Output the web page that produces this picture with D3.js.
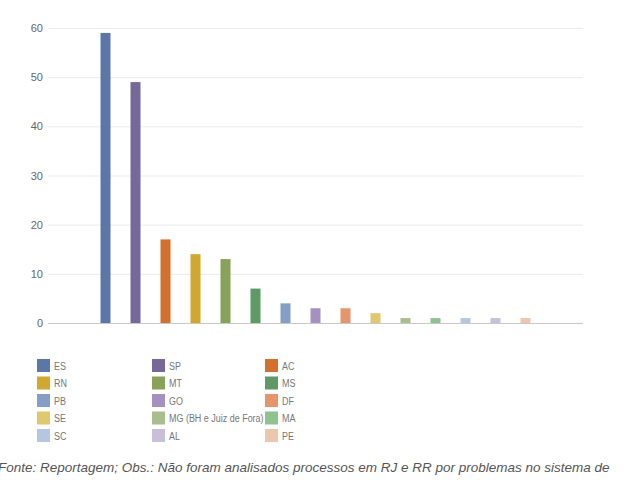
<!DOCTYPE html>
<html>
<head>
<meta charset="utf-8">
<script src="https://cdn.jsdelivr.net/npm/d3@7"></script>
<style>
  body { margin: 0; background: #fff; }
  svg { display: block; font-family: "Liberation Sans", Arial, sans-serif; }
</style>
</head>
<body>
<svg id="chart" width="640" height="480"></svg>
<script>
// estados e numero de processos
var estados = ["ES", "SP", "AC", "RN", "MT", "MS", "PB", "GO", "DF", "SE",
               "MG (BH e Juiz de Fora)", "MA", "SC", "AL", "PE"];
var processos = [59, 49, 17, 14, 13, 7, 4, 3, 3, 2, 1, 1, 1, 1, 1];
var cores = ["#5b77a8", "#76699a", "#d4702d", "#d1a72f", "#88a25a", "#5f9965",
             "#869ec5", "#a491c0", "#e6956a", "#dfc86d", "#a9bd8d", "#8ec28f",
             "#b4c6e2", "#c8bfd9", "#ebc7ae"];
var yTicks = [0, 10, 20, 30, 40, 50, 60];
var nota = "Fonte: Reportagem; Obs.: Não foram analisados processos em RJ e RR por problemas no sistema de";

var svg = d3.select("#chart");

var mLeft = 48, mRight = 583, mTop = 28, mBottom = 323;

var x = d3.scaleBand()
    .domain(estados)
    .range([mLeft + 42.5, mRight - 42.5])
    .paddingInner(2 / 3)
    .paddingOuter(1 / 3);

var y = d3.scaleLinear()
    .domain([0, 60])
    .range([mBottom, mTop]);

// grid
var yAxis = d3.axisLeft(y).tickValues(yTicks).tickSize(-(mRight - mLeft)).tickPadding(5);
var gy = svg.append("g")
    .attr("transform", "translate(" + mLeft + ",0)")
    .call(yAxis);
gy.select(".domain").remove();
gy.selectAll(".tick line").attr("stroke", "#ebebeb");
gy.selectAll(".tick text")
    .attr("fill", "#666")
    .style("font-family", "'Liberation Sans', Arial, sans-serif")
    .style("font-size", "11px");

// barras
svg.append("g").selectAll("rect")
    .data(estados)
    .enter().append("rect")
    .attr("x", function(d) { return x(d); })
    .attr("width", x.bandwidth())
    .attr("y", function(d, i) { return y(processos[i]); })
    .attr("height", function(d, i) { return y(0) - y(processos[i]); })
    .attr("fill", function(d, i) { return cores[i]; });

// eixo x
svg.append("line")
    .attr("x1", mLeft).attr("x2", mRight)
    .attr("y1", y(0) + 0.5).attr("y2", y(0) + 0.5)
    .attr("stroke", "#c8c8c8");

// legenda (texto mais estreito, como no original)
var colX = [37, 152, 265];
var legend = svg.append("g").selectAll("g")
    .data(estados)
    .enter().append("g")
    .attr("transform", function(d, i) {
        return "translate(" + colX[i % 3] + "," + (359 + Math.floor(i / 3) * 17.5) + ")";
    });
legend.append("rect")
    .attr("width", 13).attr("height", 13)
    .attr("fill", function(d, i) { return cores[i]; });
legend.append("text")
    .attr("transform", "translate(17,10.5) scale(0.78,1)")
    .attr("fill", "#777")
    .style("font-size", "11.5px")
    .text(function(d) { return d; });

// nota de rodape
svg.append("text")
    .attr("x", -2).attr("y", 472)
    .attr("fill", "#555")
    .style("font-size", "13.5px")
    .style("font-style", "italic")
    .text(nota);
</script>
</body>
</html>
